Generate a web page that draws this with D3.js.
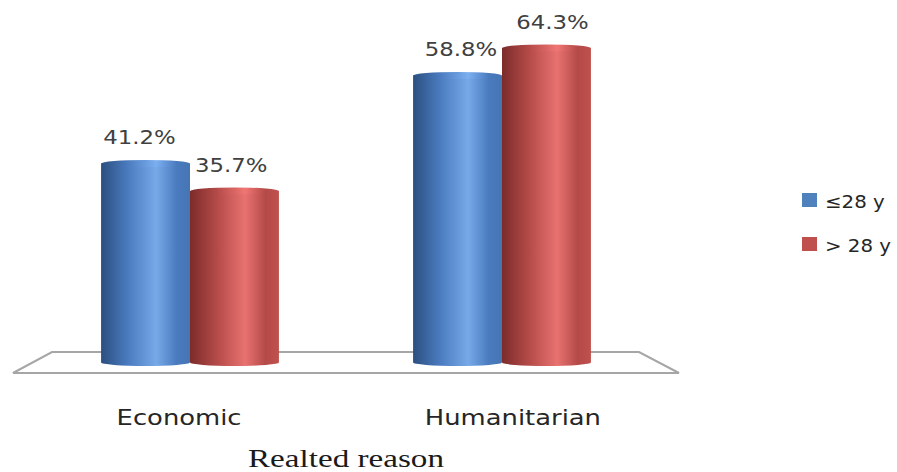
<!DOCTYPE html>
<html>
<head>
<meta charset="utf-8">
<script src="https://cdn.jsdelivr.net/npm/d3@7"></script>
<style>
  html, body { margin: 0; padding: 0; background: #fff; }
  svg { display: block; }
</style>
</head>
<body>
<svg id="chart" width="897" height="472"></svg>
<script>
// Share of respondents per related reason, by age group
const categories = ["Economic", "Humanitarian"];
const seriesNames = ["≤28 y", "> 28 y"];
const youngValues = [41.2, 58.8];
const olderValues = [35.7, 64.3];
const axisTitle = "Realted reason";

const W = 897, H = 472;
const svg = d3.select("#chart");

const palette = {
  "≤28 y": { dark: "#2c4f80", mid: "#4a7bbf", light: "#77a9e8", edge: "#4675b3", swatch: "#4f81bd" },
  "> 28 y": { dark: "#7c2c2b", mid: "#b44a48", light: "#e87270", edge: "#c0504d", swatch: "#c0504d" }
};

const rows = categories.map((c, i) => ({
  category: c,
  values: [
    { category: c, series: seriesNames[0], value: youngValues[i] },
    { category: c, series: seriesNames[1], value: olderValues[i] }
  ]
}));

// Scales
const x0 = d3.scaleBand().domain(categories).range([34, 658])
  .paddingInner(0.43).paddingOuter(0.215);
const x1 = d3.scaleBand().domain(seriesNames).range([0, x0.bandwidth()]);
const y = d3.scaleLinear().domain([0, 70]).range([366, 16]);
const ry = 3.5;
const floorMid = (x0.range()[0] + x0.range()[1]) / 2;

// Cylinder shading gradients
const defs = svg.append("defs");
seriesNames.forEach((s, i) => {
  const p = palette[s];
  const g = defs.append("linearGradient").attr("id", "body" + i)
    .attr("x1", "0%").attr("x2", "100%").attr("y1", "0%").attr("y2", "0%");
  [[0, p.dark], [0.3, p.mid], [0.62, p.light], [0.85, p.mid], [1, p.edge]]
    .forEach(([o, c]) => g.append("stop").attr("offset", o).attr("stop-color", c));
  const t = defs.append("linearGradient").attr("id", "cap" + i)
    .attr("x1", "0%").attr("x2", "100%").attr("y1", "0%").attr("y2", "0%");
  [[0, p.dark], [0.3, p.mid], [0.62, d3.color(p.light).brighter(0.1)], [0.85, p.mid], [1, p.edge]]
    .forEach(([o, c]) => t.append("stop").attr("offset", o).attr("stop-color", c));
});

// Floor plane
const floorBack = 352, floorFront = 373;
const floorPts = [
  [x0.range()[0] + 18, floorBack],
  [x0.range()[1] - 19, floorBack],
  [x0.range()[1] + 21, floorFront],
  [x0.range()[0] - 21, floorFront]
];
svg.append("polygon")
  .attr("points", floorPts.map(p => p.join(",")).join(" "))
  .attr("fill", "#ffffff")
  .attr("stroke", "#a6a6a6")
  .attr("stroke-width", 2)
  .attr("stroke-linejoin", "miter");

// Cylinders
const groups = svg.append("g").selectAll("g").data(rows).join("g")
  .attr("transform", d => `translate(${x0(d.category)},0)`);

const bars = groups.selectAll("g.bar").data(d => d.values).join("g").attr("class", "bar");

bars.each(function (d, i) {
  const g = d3.select(this);
  const left = x1(d.series), w = x1.bandwidth(), cx = left + w / 2;
  const topC = y(d.value) + ry, botC = y(0) - ry;
  g.append("ellipse").attr("cx", cx).attr("cy", botC).attr("rx", w / 2).attr("ry", ry)
    .attr("fill", `url(#body${i})`);
  g.append("rect").attr("x", left).attr("y", topC).attr("width", w).attr("height", botC - topC)
    .attr("fill", `url(#body${i})`);
  g.append("ellipse").attr("cx", cx).attr("cy", topC).attr("rx", w / 2).attr("ry", ry)
    .attr("fill", `url(#cap${i})`);
});

// Value labels (positions are local to each category group)
bars.append("text")
  .attr("transform", d => {
    const local = x1(d.series) + x1.bandwidth() / 2;
    const global = x0(d.category) + local;
    const shifted = local + (global - floorMid) * 0.03;
    return `translate(${shifted},${y(d.value) - 16}) scale(1.14,1)`;
  })
  .attr("text-anchor", "middle")
  .attr("font-family", "DejaVu Sans, sans-serif")
  .attr("font-size", 20)
  .attr("fill", "#404040")
  .text(d => d.value.toFixed(1) + "%");

// Category axis labels
const catAxis = svg.append("g");
categories.forEach(c => {
  const cx = x0(c) + x0.bandwidth() / 2;
  catAxis.append("text")
    .attr("transform", `translate(${cx + (cx - floorMid) * 0.07},425) scale(1.26,1)`)
    .attr("text-anchor", "middle")
    .attr("font-family", "DejaVu Sans, sans-serif")
    .attr("font-size", 20.5)
    .attr("fill", "#262626")
    .text(c);
});

// Axis title
svg.append("text")
  .attr("transform", `translate(${floorMid},467) scale(1.3,1)`)
  .attr("text-anchor", "middle")
  .attr("font-family", "Liberation Serif, Times New Roman, serif")
  .attr("font-size", 25.5)
  .attr("fill", "#1a1a1a")
  .text(axisTitle);

// Legend
const legend = svg.append("g").attr("transform", "translate(802,193)");
const li = legend.selectAll("g").data(seriesNames).join("g")
  .attr("transform", (d, i) => `translate(0,${i * 44})`);
li.append("rect").attr("width", 15).attr("height", 14)
  .attr("fill", d => palette[d].swatch);
li.append("text")
  .attr("transform", "translate(23,15) scale(1.1,1)")
  .attr("font-family", "DejaVu Sans, sans-serif")
  .attr("font-size", 18)
  .attr("fill", "#262626")
  .text(d => d);
</script>
</body>
</html>
